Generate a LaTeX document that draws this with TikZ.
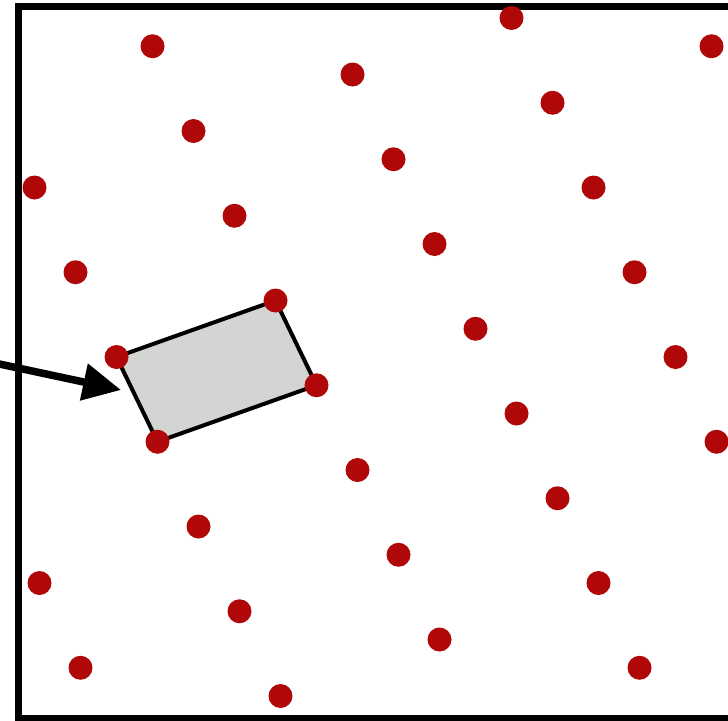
\documentclass[tikz,border=0pt]{standalone}
\usetikzlibrary{arrows.meta}
\definecolor{dotred}{HTML}{B00808}
\definecolor{cellgray}{HTML}{D2D5D2}
\tikzset{
  latdot/.style={circle,fill=dotred,draw=none,minimum size=24pt,inner sep=0pt},
  frame/.style={line width=7pt},
  cell/.style={fill=cellgray,draw=black,line width=4pt,line join=round},
  pointer/.style={line width=7.5pt,-{Triangle[length=38pt,width=36pt]}}
}
\begin{document}
\begin{tikzpicture}[x=1pt,y=-1pt]
\useasboundingbox (0,0) rectangle (728,720);
% frame
\draw[frame] (18,760) -- (18,6) -- (760,6);
\draw[frame] (18,718) -- (760,718);
% unit cell
\coordinate (c1) at (116.5,357);
\coordinate (c2) at (275.5,300.5);
\coordinate (c3) at (316.5,385.25);
\coordinate (c4) at (157.5,441.75);
\draw[cell] (c1) -- (c2) -- (c3) -- (c4) -- cycle;
% lattice dots
\foreach \x/\y [count=\k] in {
  39.5/583, 80.5/667.75,
  34.5/187.5, 75.5/272.25, 116.5/357, 157.5/441.75, 198.5/526.5, 239.5/611.25, 280.5/696,
  152.5/46.25, 193.5/131, 234.5/215.75, 275.5/300.5, 316.5/385.25, 357.5/470, 398.5/554.75, 439.5/639.5,
  352.5/74.5, 393.5/159.25, 434.5/244, 475.5/328.75, 516.5/413.5, 557.5/498.25, 598.5/583, 639.5/667.75,
  511.5/18, 552.5/102.75, 593.5/187.5, 634.5/272.25, 675.5/357, 716.5/441.75,
  711.5/46.25}
  \node[latdot] (d\k) at (\x,\y) {};
% arrow
\coordinate (tail) at (-10,362);
\coordinate (tip) at (121,390);
\draw[pointer] (tail) -- (tip);
\end{tikzpicture}
\end{document}
